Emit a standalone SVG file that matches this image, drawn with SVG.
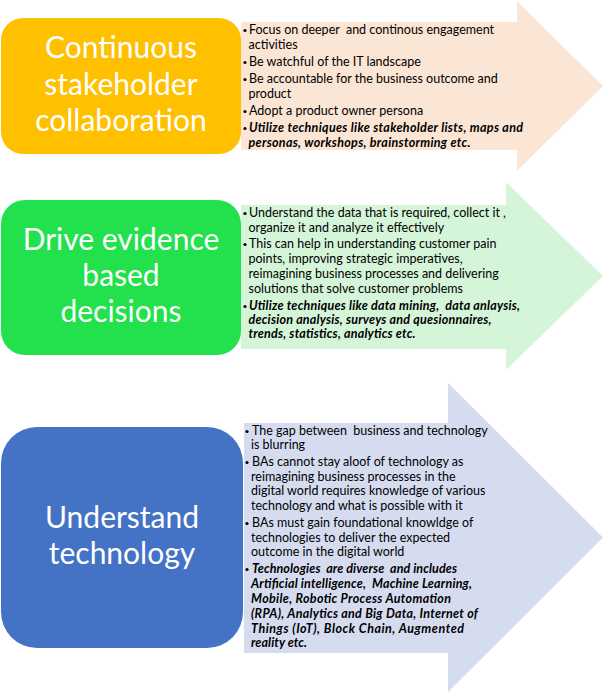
<svg xmlns="http://www.w3.org/2000/svg" width="604" height="693" viewBox="0 0 604 693">
<style>
.title{font-family:Lato,"Liberation Sans",sans-serif;font-size:30px;fill:#fff;text-anchor:middle}
.body{font-family:Lato,"Liberation Sans",sans-serif;font-size:12.5px;fill:#000;white-space:pre}
.bi{font-weight:bold;font-style:italic}
.dot{fill:#000}
</style>
<rect width="604" height="693" fill="#fff"/>
<g id="arrows">
<polygon id="arrow1" points="241,22 517,22 517,1 603,86 517,171 517,150 241,150" fill="#FBE5D5"/>
<polygon id="arrow2" points="241,205 506,205 506,182 603,276 506,370 506,349 241,349" fill="#D5F5D9"/>
<polygon id="arrow3" points="244,423 448,423 448,383 603,537.5 448,692 448,653 244,653" fill="#D6DCF0"/>
</g>
<g id="node1">
<rect x="1" y="18" width="240" height="136" rx="22" fill="#FFC000"/>
<text class="title" x="121" y="58">Continuous</text>
<text class="title" x="121" y="94.5">stakeholder</text>
<text class="title" x="121" y="131">collaboration</text>
</g>
<g id="node2">
<rect x="1" y="200" width="240" height="155" rx="24" fill="#22E14D"/>
<text class="title" x="121" y="250">Drive evidence</text>
<text class="title" x="121" y="286">based</text>
<text class="title" x="121" y="322">decisions</text>
</g>
<g id="node3">
<rect x="1" y="427" width="242" height="221" rx="36" fill="#4472C4"/>
<text class="title" x="122" y="528">Understand</text>
<text class="title" x="122" y="564">technology</text>
</g>
<g id="text1">
<circle class="dot" cx="245" cy="30.5" r="1.6"/>
<circle class="dot" cx="245" cy="62.5" r="1.6"/>
<circle class="dot" cx="245" cy="79.5" r="1.6"/>
<circle class="dot" cx="245" cy="111.5" r="1.6"/>
<circle class="dot" cx="245" cy="128.5" r="1.6"/>
<text class="body" x="249" y="34">Focus on deeper  and continous engagement</text>
<text class="body" x="248.5" y="48.5">activities</text>
<text class="body" x="249" y="66">Be watchful of the IT landscape</text>
<text class="body" x="249" y="83">Be accountable for the business outcome and</text>
<text class="body" x="248.5" y="98">product</text>
<text class="body" x="249" y="115">Adopt a product owner persona</text>
<text class="body bi" x="249" y="132" textLength="274" lengthAdjust="spacing">Utilize techniques like stakeholder lists, maps and</text>
<text class="body bi" x="248.5" y="146.5" textLength="222" lengthAdjust="spacing">personas, workshops, brainstorming etc.</text>
</g>
<g id="text2">
<circle class="dot" cx="245" cy="213.5" r="1.6"/>
<circle class="dot" cx="245" cy="244.5" r="1.6"/>
<circle class="dot" cx="245" cy="306.5" r="1.6"/>
<text class="body" x="249" y="217">Understand the data that is required, collect it ,</text>
<text class="body" x="248.5" y="232">organize it and analyze it effectively</text>
<text class="body" x="249" y="248">This can help in understanding customer pain</text>
<text class="body" x="248.5" y="263">points, improving strategic imperatives,</text>
<text class="body" x="248.5" y="278">reimagining business processes and delivering</text>
<text class="body" x="248.5" y="293">solutions that solve customer problems</text>
<text class="body bi" x="249" y="310" textLength="271" lengthAdjust="spacing">Utilize techniques like data mining,  data anlaysis,</text>
<text class="body bi" x="248.5" y="324" textLength="243" lengthAdjust="spacing">decision analysis, surveys and quesionnaires,</text>
<text class="body bi" x="248.5" y="338" textLength="167" lengthAdjust="spacing">trends, statistics, analytics etc.</text>
</g>
<g id="text3">
<circle class="dot" cx="247" cy="431.5" r="1.6"/>
<circle class="dot" cx="247" cy="462.5" r="1.6"/>
<circle class="dot" cx="247" cy="523.5" r="1.6"/>
<circle class="dot" cx="247" cy="569.5" r="1.6"/>
<text class="body" x="252" y="435">The gap between  business and technology</text>
<text class="body" x="251" y="449">is blurring</text>
<text class="body" x="252" y="466">BAs cannot stay aloof of technology as</text>
<text class="body" x="251" y="481">reimagining business processes in the</text>
<text class="body" x="251" y="495">digital world requires knowledge of various</text>
<text class="body" x="251" y="510">technology and what is possible with it</text>
<text class="body" x="252" y="527">BAs must gain foundational knowldge of</text>
<text class="body" x="251" y="541.5">technologies to deliver the expected</text>
<text class="body" x="251" y="556">outcome in the digital world</text>
<text class="body bi" x="252" y="573" textLength="205" lengthAdjust="spacing">Technologies  are diverse  and includes</text>
<text class="body bi" x="251" y="588" textLength="221" lengthAdjust="spacing">Artificial intelligence,  Machine Learning,</text>
<text class="body bi" x="251" y="603" textLength="200" lengthAdjust="spacing">Mobile, Robotic Process Automation</text>
<text class="body bi" x="251" y="617.5" textLength="227" lengthAdjust="spacing">(RPA), Analytics and Big Data, Internet of</text>
<text class="body bi" x="251" y="632.5" textLength="213" lengthAdjust="spacing">Things (IoT), Block Chain, Augmented</text>
<text class="body bi" x="251" y="646.5" textLength="56" lengthAdjust="spacing">reality etc.</text>
</g>
</svg>
